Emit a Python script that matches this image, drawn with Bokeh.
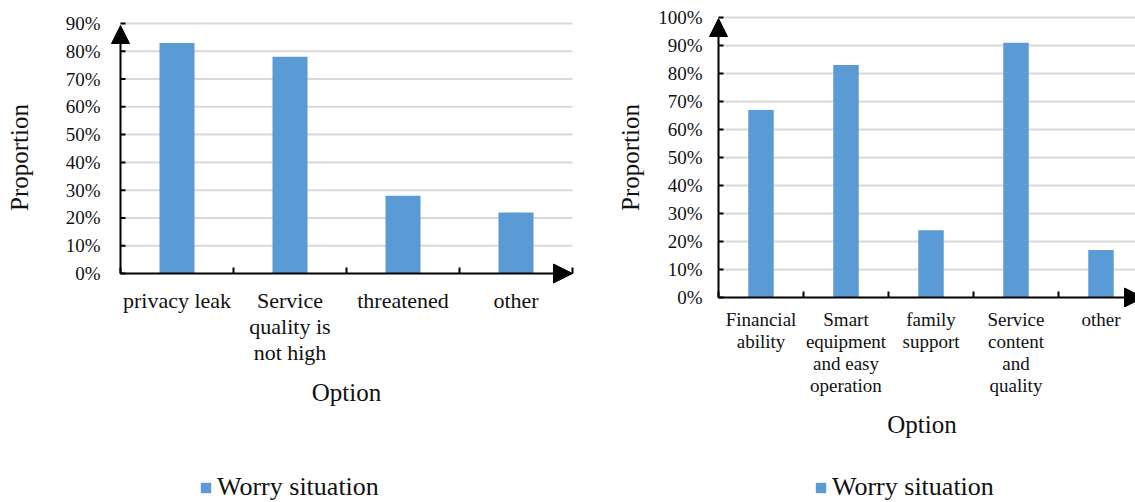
import math
from bokeh.plotting import figure
from bokeh.layouts import row, column
from bokeh.models import (Range1d, FixedTicker, Arrow, NormalHead, Legend,
                          LegendItem)
from bokeh.embed import file_html
from bokeh.resources import INLINE

# Worry situation, part 1
left_options = ["privacy leak", "Service\nquality is\nnot high", "threatened", "other"]
left_values = [83, 78, 28, 22]
left_yticks = [0, 10, 20, 30, 40, 50, 60, 70, 80, 90]

# Worry situation, part 2
right_options = ["Financial\nability", "Smart\nequipment\nand easy\noperation",
                 "family\nsupport", "Service\ncontent\nand\nquality", "other"]
right_values = [67, 83, 24, 91, 17]
right_yticks = [0, 10, 20, 30, 40, 50, 60, 70, 80, 90, 100]

series_name = "Worry situation"
BAR = "#5B9BD5"
GRID = "#D9D9D9"
FONT = "Liberation Serif"
INK = "#111111"

CHART_H = 470
LEGEND_H = 502 - CHART_H
# shared vertical frame (the row keeps top/bottom borders equal)
TOP_BORDER = 7
FRAME_BOTTOM = 307
BOTTOM_BORDER = CHART_H - FRAME_BOTTOM


def make_chart(options, values, yticks, width, border_left, border_right,
               px_per_cat, axis_y_px, top_y_px, arrow_tip_px, xlabel_size,
               bar_width, xl_standoff, xt_standoff, yt_standoff, yl_standoff):
    n = len(options)
    xs = list(range(1, n + 1))
    bounds = [x - 0.5 for x in xs] + [n + 0.5]
    ymax = yticks[-1]
    px_per_unit = (axis_y_px - top_y_px) / ymax

    frame_w = width - border_left - border_right
    x0 = 0.5 - 10 / px_per_cat
    x1 = x0 + frame_w / px_per_cat
    y1 = ymax + (top_y_px - TOP_BORDER) / px_per_unit
    y0 = -(FRAME_BOTTOM - axis_y_px) / px_per_unit

    p = figure(width=width, height=CHART_H,
               x_range=Range1d(x0, x1), y_range=Range1d(y0, y1),
               output_backend="svg", toolbar_location=None,
               min_border_left=border_left, min_border_right=border_right,
               min_border_top=TOP_BORDER, min_border_bottom=BOTTOM_BORDER)
    p.outline_line_color = None
    p.grid.visible = False

    grid_end = min(n + 0.5, x1)
    p.segment(x0=[0.5] * (len(yticks) - 1), y0=yticks[1:],
              x1=[grid_end] * (len(yticks) - 1), y1=yticks[1:],
              line_color=GRID, line_width=2)

    p.vbar(x=xs, top=values, width=bar_width, color=BAR, line_color=None)

    # axis lines with arrow heads, and short inward ticks
    p.add_layout(Arrow(end=NormalHead(size=18, fill_color="black", line_color="black"),
                       x_start=0.5, y_start=0, x_end=0.5,
                       y_end=(axis_y_px - arrow_tip_px) / px_per_unit,
                       line_color="black", line_width=2))
    p.add_layout(Arrow(end=NormalHead(size=19, fill_color="black", line_color="black"),
                       x_start=0.5, y_start=0, x_end=n + 0.5, y_end=0,
                       line_color="black", line_width=2))
    p.ray(x=[0.5] * len(yticks), y=yticks, length=5, length_units="screen",
          angle=0, line_color="black", line_width=2)
    p.ray(x=bounds, y=[0] * len(bounds), length=6, length_units="screen",
          angle=math.pi / 2, line_color="black", line_width=2)

    xa = p.xaxis[0]
    xa.ticker = FixedTicker(ticks=xs, minor_ticks=[])
    xa.major_label_overrides = {x: lab for x, lab in zip(xs, options)}
    xa.major_tick_line_color = None
    xa.minor_tick_line_color = None
    xa.axis_line_color = None
    xa.major_label_text_font = FONT
    xa.major_label_text_font_size = xlabel_size
    xa.major_label_text_color = INK
    xa.major_label_text_line_height = 1.05
    xa.major_label_standoff = xt_standoff
    xa.axis_label = "Option"
    xa.axis_label_text_font = FONT
    xa.axis_label_text_font_size = "25px"
    xa.axis_label_text_font_style = "normal"
    xa.axis_label_text_color = INK
    xa.axis_label_standoff = xl_standoff

    ya = p.yaxis[0]
    ya.ticker = FixedTicker(ticks=yticks, minor_ticks=[])
    ya.major_label_overrides = {t: f"{t}%" for t in yticks}
    ya.major_tick_line_color = None
    ya.minor_tick_line_color = None
    ya.axis_line_color = None
    ya.major_label_text_font = FONT
    ya.major_label_text_font_size = "19px"
    ya.major_label_text_color = INK
    ya.major_label_standoff = yt_standoff
    ya.axis_label = "Proportion"
    ya.axis_label_text_font = FONT
    ya.axis_label_text_font_size = "25px"
    ya.axis_label_text_font_style = "normal"
    ya.axis_label_text_color = INK
    ya.axis_label_standoff = yl_standoff
    return p


def make_legend(values, width, border_left, border_right, offset_x):
    p = figure(width=width, height=LEGEND_H, x_range=Range1d(0, 1),
               y_range=Range1d(0, 1), output_backend="svg",
               toolbar_location=None, x_axis_location=None,
               y_axis_location=None, min_border_left=border_left,
               min_border_right=border_right, min_border_top=0,
               min_border_bottom=0)
    p.outline_line_color = None
    p.grid.visible = False
    # the series renderer is kept hidden here; it only supplies the key swatch
    swatch = p.vbar(x=list(range(1, len(values) + 1)), top=values, width=0.3,
                    color=BAR, line_color=None, visible=False)
    legend = Legend(items=[LegendItem(label=series_name, renderers=[swatch])],
                    location=(offset_x, 0), orientation="horizontal",
                    padding=0, margin=0, border_line_color=None,
                    background_fill_alpha=0, glyph_width=13, glyph_height=13,
                    label_standoff=5, label_text_font=FONT,
                    label_text_font_size="26px", label_text_color=INK,
                    inactive_fill_alpha=0)
    p.add_layout(legend, "center")
    return p


left = make_chart(left_options, left_values, left_yticks, width=600,
                  border_left=110, border_right=18, px_per_cat=113,
                  axis_y_px=273, top_y_px=23, arrow_tip_px=25,
                  xlabel_size="22px", bar_width=0.31, xl_standoff=11,
                  xt_standoff=-26, yt_standoff=4, yl_standoff=30)
right = make_chart(right_options, right_values, right_yticks, width=535,
                   border_left=108, border_right=0, px_per_cat=85,
                   axis_y_px=297, top_y_px=17, arrow_tip_px=18,
                   xlabel_size="19px", bar_width=0.30, xl_standoff=12,
                   xt_standoff=-5, yt_standoff=0, yl_standoff=11)
left_key = make_legend(left_values, 600, 110, 18, 89)
right_key = make_legend(right_values, 535, 108, 0, 106)

layout = row(column(left, left_key, spacing=0), column(right, right_key, spacing=0),
             spacing=0)
open("out.html", "w").write(file_html(layout, INLINE))
